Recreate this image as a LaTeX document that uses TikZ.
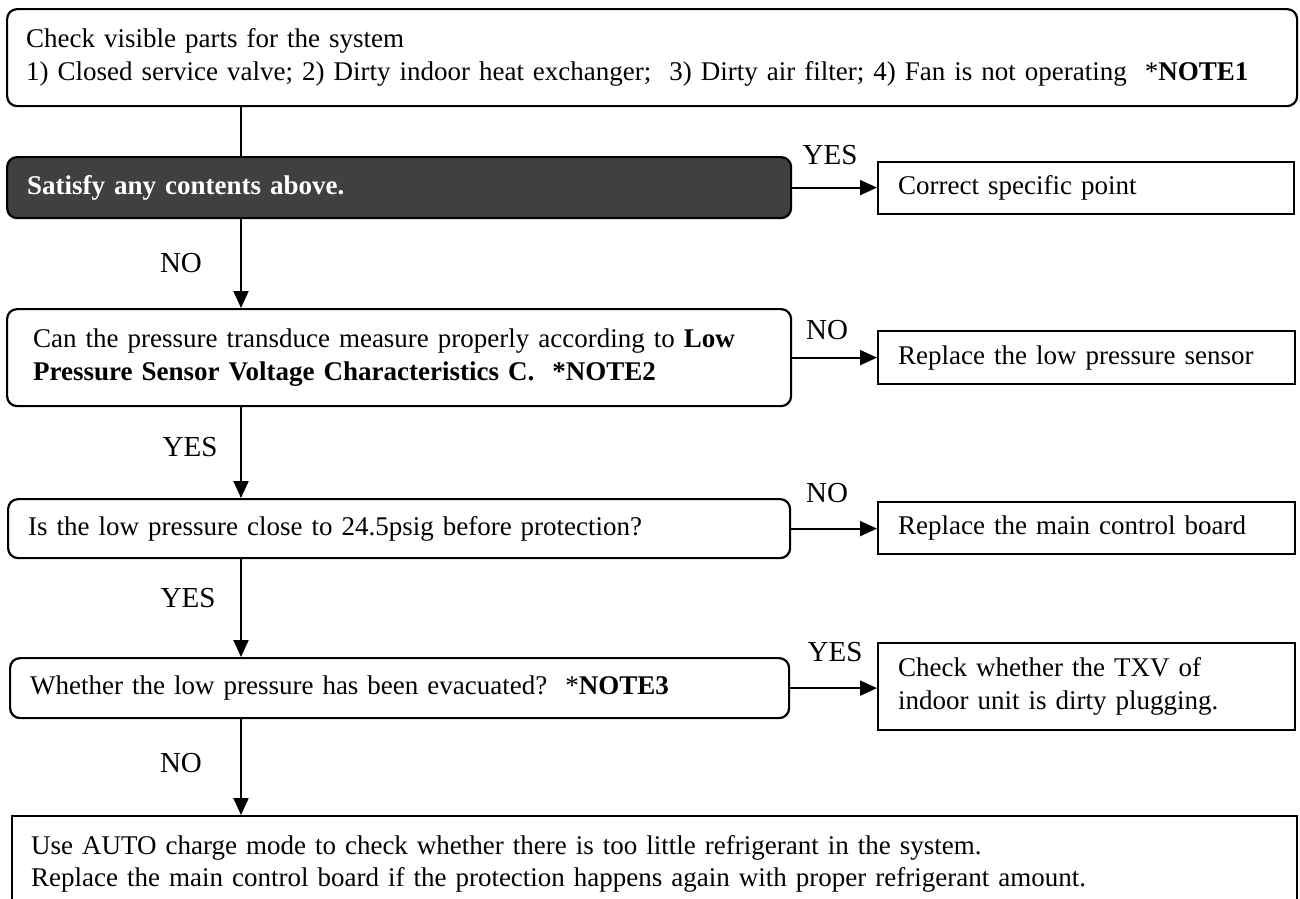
\documentclass[tikz,border=0pt]{standalone}
\usepackage{fontspec}
\setmainfont{Liberation Serif}
\usetikzlibrary{arrows.meta}
\definecolor{darkfill}{HTML}{404040}
\begin{document}
\begin{tikzpicture}[x=1pt,y=-1pt,
  every node/.style={font=\fontsize{27}{33}\selectfont},
  boxbase/.style={draw=black, line width=2.2pt, anchor=north west, align=left, inner xsep=20pt, inner ysep=0pt},
  rbox/.style={boxbase, rounded corners=10pt},
  sbox/.style={boxbase},
  arr/.style={line width=2pt, -{Triangle[length=17pt,width=15pt]}},
  plain/.style={line width=2pt},
  lbl/.style={inner sep=0pt, font=\fontsize{29}{33}\selectfont}
]
\useasboundingbox (0,0) rectangle (1300,898);
\fill[white] (0,0) rectangle (1300,898);

\node[rbox, minimum width=1290pt, minimum height=97pt, text width=1252pt, inner xsep=19pt] (top) at (6,8)
  {Check visible parts for the system\\1) Closed service valve; 2) Dirty indoor heat exchanger;\ \ 3) Dirty air filter; 4) Fan is not operating\ \ *\textbf{NOTE1}};
\node[rbox, fill=darkfill, text=white, minimum width=784pt, minimum height=61pt, text width=744pt] (dark) at (6,156)
  {\textbf{Satisfy any contents above.}};
\node[sbox, minimum width=416pt, minimum height=52pt, text width=376pt] (correct) at (877,161)
  {Correct specific point};
\node[rbox, minimum width=784pt, minimum height=97pt, text width=732pt, inner xsep=26pt] (can) at (6,308)
  {Can the pressure transduce measure properly according to \textbf{Low}\\\textbf{Pressure Sensor Voltage Characteristics C.\ \ *NOTE2}};
\node[sbox, minimum width=417pt, minimum height=53pt, text width=377pt] (sensor) at (877,330)
  {Replace the low pressure sensor};
\node[rbox, minimum width=782pt, minimum height=59pt, text width=742pt] (is) at (7,498)
  {Is the low pressure close to 24.5psig before protection?};
\node[sbox, minimum width=417pt, minimum height=52pt, text width=377pt] (main) at (877,501)
  {Replace the main control board};
\node[rbox, minimum width=779pt, minimum height=60pt, text width=739pt] (whether) at (9,657)
  {Whether the low pressure has been evacuated?\ \ *\textbf{NOTE3}};
\node[sbox, minimum width=417pt, minimum height=87pt, text width=377pt] (txv) at (877,642)
  {Check whether the TXV of\\indoor unit is dirty plugging.};
\node[sbox, minimum width=1285pt, text width=1247pt, inner xsep=19pt, inner ysep=19pt] (final) at (11,815)
  {Use AUTO charge mode to check whether there is too little refrigerant in the system.\\[-1pt]Replace the main control board if the protection happens again with proper refrigerant amount.};

\coordinate (vx) at (241,0);
\draw[plain] (vx |- top.south) -- (vx |- dark.north);
\draw[arr] (vx |- dark.south) -- (vx |- can.north);
\draw[arr] (vx |- can.south) -- (vx |- is.north);
\draw[arr] (vx |- is.south) -- (vx |- whether.north);
\draw[arr] (vx |- whether.south) -- (vx |- final.north);

\draw[arr] (dark.east) -- (dark.east -| correct.west);
\draw[arr] (can.east) -- (can.east -| sensor.west);
\draw[arr] (is.east) -- (is.east -| main.west);
\draw[arr] (whether.east) -- (whether.east -| txv.west);

\node[lbl] (l1) at (830,155) {YES};
\node[lbl] (l2) at (181,263) {NO};
\node[lbl] (l3) at (827,330) {NO};
\node[lbl] (l4) at (190,447) {YES};
\node[lbl] (l5) at (827,493) {NO};
\node[lbl] (l6) at (188,598) {YES};
\node[lbl] (l7) at (835,652) {YES};
\node[lbl] (l8) at (181,763) {NO};
\end{tikzpicture}
\end{document}
